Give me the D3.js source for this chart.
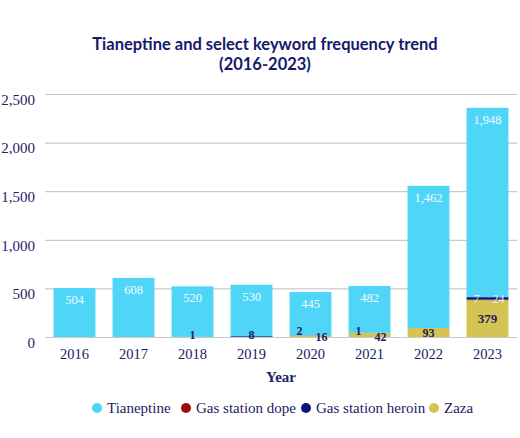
<!DOCTYPE html>
<html lang="en">
<head>
<meta charset="UTF-8">
<title>Tianeptine keyword frequency</title>
<script src="https://d3js.org/d3.v7.min.js"></script>
<style>
  body { margin: 0; background: #fff; }
  .grid line { stroke: #c9c9c9; stroke-width: 1.2; }
  .grid path { stroke: none; }
</style>
</head>
<body>
<script>
// data
var years = ["2016", "2017", "2018", "2019", "2020", "2021", "2022", "2023"];
var tianeptine = [504, 608, 520, 530, 445, 482, 1462, 1948];
var gasStationDope = [0, 0, 0, 0, 0, 0, 0, 7];
var gasStationHeroin = [0, 0, 1, 8, 2, 1, 0, 24];
var zaza = [0, 0, 0, 0, 16, 42, 93, 379];
var yTicks = [0, 500, 1000, 1500, 2000, 2500];

var seriesNames = ["Tianeptine", "Gas station dope", "Gas station heroin", "Zaza"];
var colors = {
  "Tianeptine": "#4fd5f8",
  "Gas station dope": "#9b0b0b",
  "Gas station heroin": "#0a167a",
  "Zaza": "#d3c453"
};
var navy = "#1c2163";
var serif = "'Liberation Serif', 'DejaVu Serif', serif";

// stacking order bottom -> top
var stackKeys = ["Zaza", "Gas station dope", "Gas station heroin", "Tianeptine"];
var rows = years.map(function (y, i) {
  return {
    year: y,
    "Tianeptine": tianeptine[i],
    "Gas station dope": gasStationDope[i],
    "Gas station heroin": gasStationHeroin[i],
    "Zaza": zaza[i]
  };
});

var width = 520, height = 438;
var margin = { left: 45, right: 3, top: 94, bottom: 101 };

var svg = d3.select("body").append("svg")
  .attr("width", width)
  .attr("height", height);

var x = d3.scaleBand()
  .domain(years)
  .range([margin.left, width - margin.right])
  .paddingInner(0.29)
  .paddingOuter(0.145);

var y = d3.scaleLinear()
  .domain([0, 2500])
  .range([height - margin.bottom, margin.top]);

// title
var title = svg.append("text")
  .attr("x", 265)
  .attr("y", 50)
  .attr("text-anchor", "middle")
  .style("font-family", "Lato, sans-serif")
  .style("font-weight", "700")
  .style("font-size", "16.5px")
  .style("fill", "#15196b");
title.append("tspan").attr("x", 265).text("Tianeptine and select keyword frequency trend");
title.append("tspan").attr("x", 265).attr("dy", 20).text("(2016-2023)");

// grid
svg.append("g")
  .attr("class", "grid")
  .attr("transform", "translate(" + margin.left + ",0)")
  .call(d3.axisLeft(y).tickValues(yTicks).tickSize(-(width - margin.left - margin.right)).tickFormat(""));

// y axis labels
var yAxisG = svg.append("g")
  .attr("transform", "translate(" + (margin.left - 7) + ",0)")
  .call(d3.axisLeft(y).tickValues(yTicks).tickSize(0).tickFormat(d3.format(",")));
yAxisG.select(".domain").remove();
yAxisG.selectAll("text")
  .attr("dy", "0.68em")
  .style("font-family", serif)
  .style("font-size", "15px")
  .style("fill", navy);

// bars
var stack = d3.stack().keys(stackKeys)(rows);

svg.append("g").selectAll("g")
  .data(stack)
  .join("g")
  .attr("fill", function (d) { return colors[d.key]; })
  .selectAll("rect")
  .data(function (d) { return d; })
  .join("rect")
  .attr("x", function (d) { return x(d.data.year); })
  .attr("y", function (d) { return y(d[1]); })
  .attr("width", x.bandwidth())
  .attr("height", function (d) { return y(d[0]) - y(d[1]); });

// x axis
var xAxisG = svg.append("g")
  .attr("transform", "translate(0," + (height - margin.bottom + 6) + ")")
  .call(d3.axisBottom(x).tickSize(0));
xAxisG.select(".domain").remove();
xAxisG.selectAll("text")
  .attr("dy", "0.9em")
  .style("font-family", serif)
  .style("font-size", "14.5px")
  .style("fill", navy);

svg.append("text")
  .attr("x", (margin.left + width - margin.right) / 2)
  .attr("y", height - margin.bottom + 45)
  .attr("text-anchor", "middle")
  .style("font-family", serif)
  .style("font-weight", "700")
  .style("font-size", "15px")
  .style("fill", navy)
  .text("Year");

// value labels
var labelG = svg.append("g")
  .style("font-family", serif);

// tianeptine labels near top of segment
var tLayer = stack[stackKeys.indexOf("Tianeptine")];
labelG.selectAll(".tlab")
  .data(tLayer)
  .join("text")
  .attr("x", function (d) { return x(d.data.year) + x.bandwidth() / 2; })
  .attr("y", function (d) { return y(d[1]) + 16; })
  .attr("text-anchor", "middle")
  .style("font-size", "12.5px")
  .style("fill", "#f4fbff")
  .text(function (d) { return d3.format(",")(d.data["Tianeptine"]); });

// small-series labels
years.forEach(function (yr, i) {
  var cx = x(yr) + x.bandwidth() / 2;
  var base = y(0);
  var z = zaza[i], h = gasStationHeroin[i], dp = gasStationDope[i];
  var labels = [];
  if (z > 0) {
    if (base - y(z) > 14) labels.push({ v: z, x: cx, y: (base + y(z)) / 2, fill: navy, size: 13 });
    else if (h > 0) labels.push({ v: z, x: cx + 11, y: base, fill: navy, size: 12 });
    else labels.push({ v: z, x: cx, y: (base + y(z)) / 2, fill: navy, size: 12 });
  }
  if (h > 0 && dp > 0) {
    var mid = y(z + (h + dp) / 2);
    labels.push({ v: dp, x: cx - 11, y: mid, fill: "#e6eefc", size: 12 });
    labels.push({ v: h, x: cx + 11, y: mid, fill: "#e6eefc", size: 12 });
  } else if (h > 0) {
    if (z > 0) labels.push({ v: h, x: cx - 11, y: base - 6, fill: navy, size: 12 });
    else labels.push({ v: h, x: cx, y: base - 2, fill: navy, size: 12 });
  }
  labels.forEach(function (l) {
    labelG.append("text")
      .attr("x", l.x)
      .attr("y", l.y)
      .attr("dy", "0.35em")
      .attr("text-anchor", "middle")
      .style("font-size", l.size + "px")
      .style("font-weight", l.fill === navy ? "700" : "400")
      .style("fill", l.fill)
      .text(l.v);
  });
});

// legend
var legendX = [97, 186, 306, 434];
var legend = svg.append("g")
  .attr("transform", "translate(0," + (height - 30) + ")");
var items = legend.selectAll("g")
  .data(seriesNames)
  .join("g")
  .attr("transform", function (d, i) { return "translate(" + legendX[i] + ",0)"; });
items.append("circle")
  .attr("r", 5)
  .attr("fill", function (d) { return colors[d]; });
items.append("text")
  .attr("x", 10)
  .attr("dy", "0.33em")
  .style("font-family", serif)
  .style("font-size", "15px")
  .style("fill", navy)
  .text(function (d) { return d; });
</script>
</body>
</html>
